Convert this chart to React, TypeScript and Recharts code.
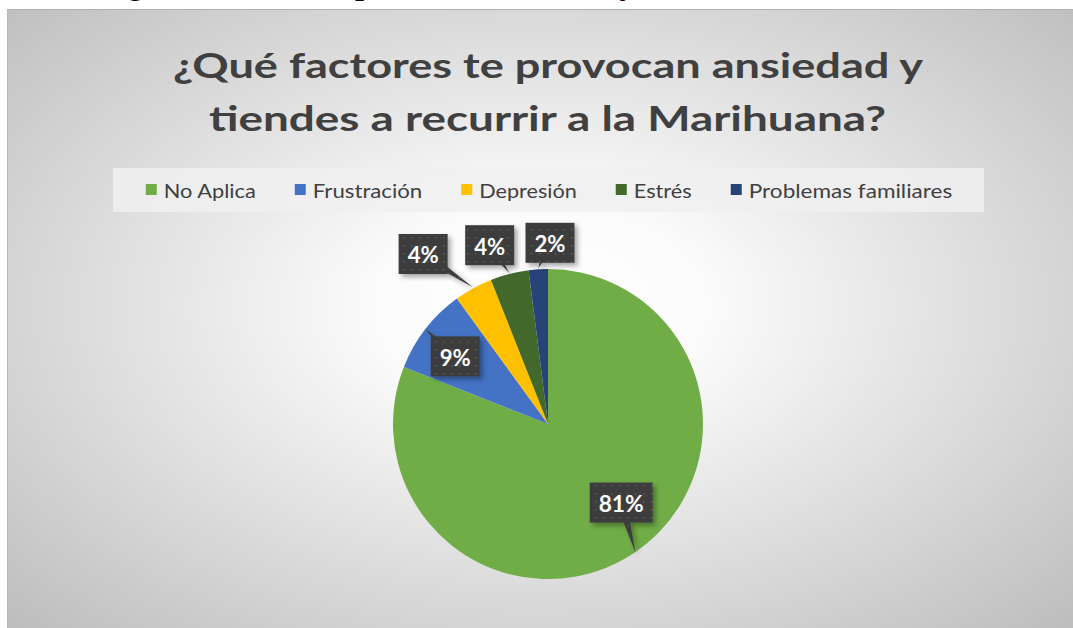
import { Cell, Legend, Pie, PieChart } from "recharts";

const categories = ["No Aplica", "Frustración", "Depresión", "Estrés", "Problemas familiares"];
const shares = [81, 9, 4, 4, 2];
const sliceColors = ["#70AD47", "#4472C4", "#FFC000", "#43682B", "#264478"];
const titleLines = ["¿Qué factores te provocan ansiedad y", "tiendes a recurrir a la Marihuana?"];
const caption = "Gráfico 16: ¿Qué factores te provocan ansiedad y tiendes a recurrir a la Marihuana?";

// layout only: callout box centre relative to the pointer tip on the rim
const calloutOffsets = [
  [-14.5, -50.5],
  [30.5, 28],
  [-49.7, -33.3],
  [-19.5, -27.7],
  [11.8, -25.5],
];
// layout only: rendered width of each legend label (Calibri in the original)
const legendTextWidths = [92, 109.5, 97.5, 58, 203.5];

const data = categories.map((name, i) => ({ name, value: shares[i] }));

const RADIAN = Math.PI / 180;

function Callout(props: any) {
  const { cx, cy, midAngle, outerRadius, percent, index } = props;
  const r = outerRadius + 1;
  const tx = cx + r * Math.cos(-midAngle * RADIAN);
  const ty = cy + r * Math.sin(-midAngle * RADIAN);
  const [ox, oy] = calloutOffsets[index] ?? [0, 0];
  const bx = tx + ox;
  const by = ty + oy;
  const text = `${Math.round(percent * 100)}%`;
  const w = text.length > 2 ? 63 : 49;
  const h = 40;
  const dx = tx - bx;
  const dy = ty - by;
  const len = Math.hypot(dx, dy) || 1;
  const px = (-dy / len) * 5;
  const py = (dx / len) * 5;
  return (
    <g key={`callout-${index}`}>
      <g filter="url(#calloutShadow)">
        <path d={`M${bx + px},${by + py}L${tx},${ty}L${bx - px},${by - py}Z`} fill="url(#dotFill)" />
        <rect x={bx - w / 2} y={by - h / 2} width={w} height={h} fill="url(#dotFill)" />
      </g>
      <text
        x={bx}
        y={by + 1}
        textAnchor="middle"
        dominantBaseline="central"
        fill="#ffffff"
        fontFamily="Lato, sans-serif"
        fontWeight={700}
        fontSize={22}
        textLength={text.length > 2 ? 45 : 31}
        lengthAdjust="spacingAndGlyphs"
      >
        {text}
      </text>
    </g>
  );
}

function LegendBand() {
  const gap = 40;
  const total = legendTextWidths.reduce((s, w) => s + w + 17, 0) + gap * (categories.length - 1);
  let x = (871 - total) / 2;
  const items = categories.map((name, i) => {
    const sx = x;
    x += 17 + legendTextWidths[i] + gap;
    return (
      <g key={name}>
        <rect x={sx} y={16} width={11} height={11} fill={sliceColors[i]} />
        <text
          x={sx + 18}
          y={22}
          dominantBaseline="central"
          fontFamily="Lato, sans-serif"
          fontSize={19}
          fill="#404040"
          textLength={legendTextWidths[i]}
          lengthAdjust="spacingAndGlyphs"
        >
          {name}
        </text>
      </g>
    );
  });
  return (
    <svg width={871} height={44} style={{ display: "block" }}>
      <rect width={871} height={44} fill="#f0f0f0" fillOpacity={0.85} />
      {items}
    </svg>
  );
}

export default function App() {
  return (
    <div style={{ position: "absolute", left: 0, top: 0, width: 1073, height: 628, overflow: "hidden", background: "#fff" }}>
      <svg width={0} height={0} style={{ position: "absolute" }}>
        <defs>
          <pattern id="dotFill" width={8} height={8} patternUnits="userSpaceOnUse">
            <rect width={8} height={8} fill="#3d3d3d" />
            <rect x={3} y={3} width={1.5} height={1.5} fill="#5a5a5a" />
          </pattern>
          <filter id="calloutShadow" x="-30%" y="-30%" width="160%" height="160%">
            <feDropShadow dx={3} dy={3} stdDeviation={2.5} floodColor="#000" floodOpacity={0.35} />
          </filter>
        </defs>
      </svg>
      <div
        style={{
          position: "absolute",
          top: -33,
          left: -38,
          whiteSpace: "nowrap",
          fontFamily: "'Liberation Serif', serif",
          fontWeight: 700,
          fontSize: 32,
          lineHeight: "32px",
          color: "#000",
        }}
      >
        {caption}
      </div>
      <div
        style={{
          position: "absolute",
          left: 7,
          top: 9,
          width: 1066,
          height: 619,
          boxSizing: "border-box",
          borderTop: "1px solid #b0b0b0",
          borderLeft: "1px solid #b8b8b8",
          background:
            "radial-gradient(ellipse farthest-corner at 50% 48%, #ffffff 0%, #fbfbfb 22%, #bdbdbd 100%)",
        }}
      >
        <PieChart width={1066} height={619} margin={{ top: 0, right: 0, bottom: 0, left: 0 }}>
          <Legend
            layout="horizontal"
            verticalAlign="middle"
            align="center"
            wrapperStyle={{ top: 158, left: 105, width: 871, height: 44 }}
            content={() => <LegendBand />}
          />
          <Pie
            data={data}
            dataKey="value"
            nameKey="name"
            cx={540}
            cy={414}
            outerRadius={155}
            startAngle={90}
            endAngle={-270}
            stroke="none"
            labelLine={false}
            label={Callout}
            isAnimationActive={false}
          >
            {data.map((d, i) => (
              <Cell key={d.name} fill={sliceColors[i]} />
            ))}
          </Pie>
        </PieChart>
        <svg width={1066} height={160} style={{ position: "absolute", left: 0, top: 0, pointerEvents: "none" }}>
          <text x={540} y={68} textAnchor="middle" fontFamily="Lato, sans-serif" fontWeight={700} fontSize={34} fill="#404040" textLength={750} lengthAdjust="spacingAndGlyphs">
            {titleLines[0]}
          </text>
          <text x={539.5} y={121} textAnchor="middle" fontFamily="Lato, sans-serif" fontWeight={700} fontSize={34} fill="#404040" textLength={677} lengthAdjust="spacingAndGlyphs">
            {titleLines[1]}
          </text>
        </svg>
      </div>
    </div>
  );
}
